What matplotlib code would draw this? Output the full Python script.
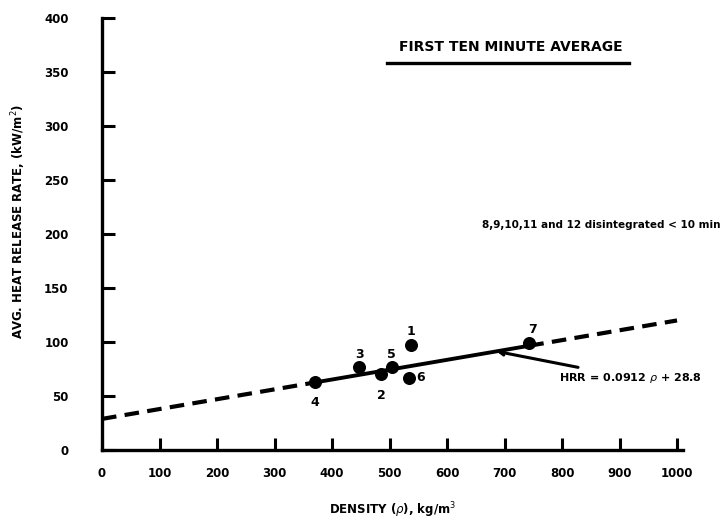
import numpy as np
import matplotlib.pyplot as plt

# Data
labels = ['4', '3', '2', '5', '6', '1', '7']
density = [370, 447, 485, 504, 533, 538, 743]
hrr = [63, 77, 70, 77, 67, 97, 99]
label_offsets = [(0, -15), (0, 9), (0, -15), (0, 9), (9, 0), (0, 10), (2, 10)]

slope = 0.0912
intercept = 28.8

fig = plt.figure(figsize=(7.26, 5.26), dpi=100)
ax = fig.add_axes([0.1405, 0.1445, 0.80, 0.821])

# fitted line: dashed outside the data range, solid inside
x_lo = np.array([0, min(density)])
x_mid = np.array([min(density), max(density)])
x_hi = np.array([max(density), 1000])
ax.plot(x_lo, slope * x_lo + intercept, color='black', lw=3, ls=(0, (3.5, 2)))
ax.plot(x_mid, slope * x_mid + intercept, color='black', lw=2.8)
ax.plot(x_hi, slope * x_hi + intercept, color='black', lw=3, ls=(0, (3.5, 2)))

ax.scatter(density, hrr, s=70, color='black', zorder=3)
for lab, x, y, off in zip(labels, density, hrr, label_offsets):
    ax.annotate(lab, (x, y), xytext=off, textcoords='offset points',
                ha='center', va='center', fontsize=9, fontweight='bold')

ax.annotate('HRR = 0.0912 $\\rho$ + 28.8', xy=(686, slope * 686 + intercept),
            xytext=(795, 67), ha='left', va='center', fontsize=8, fontweight='bold',
            arrowprops=dict(arrowstyle='->', color='black', lw=2.2,
                            shrinkA=2, shrinkB=0))

ax.text(711, 373, 'FIRST TEN MINUTE AVERAGE', ha='center', va='center',
        fontsize=10, fontweight='bold')
ax.plot([495, 917], [358, 358], color='black', lw=2.4, clip_on=False)

ax.text(1075, 208, '8,9,10,11 and 12 disintegrated < 10 min', ha='right',
        va='center', fontsize=7.5, fontweight='bold', clip_on=False)

ax.set_xlim(0, 1010)
ax.set_ylim(0, 400)
ax.set_xticks(np.arange(0, 1001, 100))
ax.set_yticks(np.arange(0, 401, 50))
ax.spines['top'].set_visible(False)
ax.spines['right'].set_visible(False)
for s in ['left', 'bottom']:
    ax.spines[s].set_linewidth(2.4)
ax.tick_params(direction='in', length=9, width=2.2, labelsize=8.5)
ax.tick_params(axis='x', pad=12)
ax.tick_params(axis='y', pad=24)
for t in ax.get_xticklabels() + ax.get_yticklabels():
    t.set_fontweight('bold')

ax.set_xlabel('DENSITY ($\\rho$), kg/m$^3$', fontsize=8.5, fontweight='bold', labelpad=15)
ax.set_ylabel('AVG. HEAT RELEASE RATE, (kW/m$^2$)', fontsize=8.5, fontweight='bold')
ax.yaxis.set_label_coords(-0.128, 0.53)

fig.savefig('out.png', dpi=100)
